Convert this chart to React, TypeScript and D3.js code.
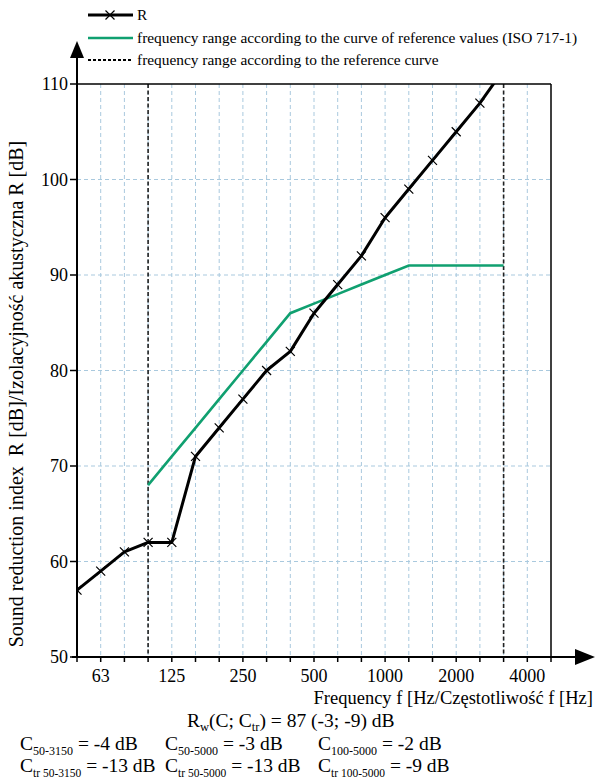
import React from "react";
import * as d3 from "d3";

const bands = ["50","63","80","100","125","160","200","250","315","400","500","630","800","1000","1250","1600","2000","2500","3150","4000","5000"];
const tickLabels = ["63","125","250","500","1000","2000","4000"];
const yTicks = [50, 60, 70, 80, 90, 100, 110];

// Measured sound reduction index R, bands 50 .. 3150 Hz
const rBands = ["50","63","80","100","125","160","200","250","315","400","500","630","800","1000","1250","1600","2000","2500","3150"];
const rValues = [57, 59, 61, 62, 62, 71, 74, 77, 80, 82, 86, 89, 92, 96, 99, 102, 105, 108, 111.5];

// Shifted reference curve (ISO 717-1), bands 100 .. 3150 Hz
const refBands = ["100","125","160","200","250","315","400","500","630","800","1000","1250","1600","2000","2500","3150"];
const refValues = [68, 71, 74, 77, 80, 83, 86, 87, 88, 89, 90, 91, 91, 91, 91, 91];

const rangeBands = ["100", "3150"];

const legendItems = [
  "R",
  "frequency range according to the curve of reference values (ISO 717-1)",
  "frequency range according to the reference curve",
];

const cRow1 = [
  { sub: "50-3150", val: " = -4 dB" },
  { sub: "50-5000", val: " = -3 dB" },
  { sub: "100-5000", val: " = -2 dB" },
];
const cRow2 = [
  { sub: "tr 50-3150", val: " = -13 dB" },
  { sub: "tr 50-5000", val: " = -13 dB" },
  { sub: "tr 100-5000", val: " = -9 dB" },
];

const FONT = "Liberation Serif, Tinos, DejaVu Serif, serif";

export default function App() {
  const W = 595, H = 781;
  const left = 77, right = 551, top = 84, bottom = 657;
  const xi = d3.scaleLinear().domain([0, bands.length - 1]).range([left, right]);
  const x = (b: string) => xi(bands.indexOf(b));
  const y = d3.scaleLinear().domain([50, 110]).range([bottom, top]);

  const line = d3.line<[string, number]>().x(d => x(d[0])).y(d => y(d[1]));
  const rPath = line(rBands.map((b, i) => [b, rValues[i]]));
  const refPath = line(refBands.map((b, i) => [b, refValues[i]]));

  const gridColor = "#a9c9de";
  const cross = (cx: number, cy: number, k: string) => (
    <path key={k} d={`M${cx - 4.5},${cy - 4.5}L${cx + 4.5},${cy + 4.5}M${cx - 4.5},${cy + 4.5}L${cx + 4.5},${cy - 4.5}`} stroke="#000" strokeWidth={1.2} />
  );

  const colX = [20, 165, 318];
  const legendY = [15, 38, 60];

  return (
    <svg width={W} height={H} style={{ position: "absolute", left: 0, top: 0, fontFamily: FONT }}>
      <rect width={W} height={H} fill="#fff" />
      <defs>
        <clipPath id="plot">
          <rect x={left} y={top} width={right - left} height={bottom - top} />
        </clipPath>
      </defs>

      {/* grid */}
      {bands.map((b, i) => (i > 0 && i < bands.length - 1) ? (
        <line key={"gv" + b} x1={x(b)} x2={x(b)} y1={top} y2={bottom} stroke={gridColor} strokeWidth={1} strokeDasharray="4,3" />
      ) : null)}
      {yTicks.filter(v => v > 50 && v < 110).map(v => (
        <line key={"gh" + v} x1={left} x2={right} y1={y(v)} y2={y(v)} stroke={gridColor} strokeWidth={1} strokeDasharray="4,3" />
      ))}

      {/* frequency range dashed lines */}
      {rangeBands.map(b => (
        <line key={"rb" + b} x1={x(b)} x2={x(b)} y1={top} y2={bottom} stroke="#222" strokeWidth={1.6} strokeDasharray="4,2.5" />
      ))}

      {/* frame */}
      <line x1={left} x2={right} y1={top} y2={top} stroke="#000" strokeWidth={1.5} />
      <line x1={right} x2={right} y1={top} y2={bottom} stroke="#000" strokeWidth={1.5} />

      {/* axes */}
      <line x1={left} x2={left} y1={55} y2={bottom} stroke="#000" strokeWidth={2} />
      <path d={`M${left},41L${left - 7},58L${left + 7},58Z`} fill="#000" />
      <line x1={left - 5} x2={578} y1={bottom} y2={bottom} stroke="#000" strokeWidth={2} />
      <path d={`M595,${bottom}L575,${bottom - 8}L575,${bottom + 8}Z`} fill="#000" />

      {yTicks.map(v => (
        <g key={"yt" + v}>
          <line x1={left - 7} x2={left} y1={y(v)} y2={y(v)} stroke="#000" strokeWidth={1.5} />
          <text x={68} y={y(v) + 6} textAnchor="end" fontSize={18}>{v}</text>
        </g>
      ))}
      {bands.map(b => (
        <line key={"xt" + b} x1={x(b)} x2={x(b)} y1={bottom} y2={bottom + 5} stroke="#000" strokeWidth={1.5} />
      ))}
      {tickLabels.map(b => (
        <text key={"xl" + b} x={x(b)} y={682} textAnchor="middle" fontSize={18}>{b}</text>
      ))}

      {/* curves */}
      <g clipPath="url(#plot)">
        <path d={refPath || ""} fill="none" stroke="#10a070" strokeWidth={2.6} />
        <path d={rPath || ""} fill="none" stroke="#000" strokeWidth={3} strokeLinejoin="round" />
        {rBands.map((b, i) => cross(x(b), y(rValues[i]), "m" + b))}
      </g>

      {/* legend */}
      <line x1={88} x2={133} y1={legendY[0]} y2={legendY[0]} stroke="#000" strokeWidth={3} />
      {cross(110, legendY[0], "lg")}
      <line x1={88} x2={133} y1={legendY[1]} y2={legendY[1]} stroke="#10a070" strokeWidth={2.6} />
      <line x1={88} x2={133} y1={legendY[2]} y2={legendY[2]} stroke="#000" strokeWidth={2} strokeDasharray="3,2" />
      {legendItems.map((t, i) => (
        <text key={"lt" + i} x={137} y={legendY[i] + 5} fontSize={15.4}>{t}</text>
      ))}

      {/* axis titles */}
      <text x={593} y={704} textAnchor="end" fontSize={18.5}>Frequency f [Hz/Częstotliwość f [Hz]</text>
      <text transform={`translate(23,394) rotate(-90)`} textAnchor="middle" fontSize={20} style={{ whiteSpace: "pre" }}>
        {"Sound reduction index  R [dB]/Izolacyjność akustyczna R [dB]"}
      </text>

      {/* summary */}
      <text x={187} y={727} fontSize={19.5}>
        <tspan>R</tspan><tspan dy={4} fontSize={12.5}>w</tspan><tspan dy={-4}>(C; C</tspan><tspan dy={4} fontSize={12.5}>tr</tspan><tspan dy={-4}>) = 87 (-3; -9) dB</tspan>
      </text>
      {cRow1.map((c, i) => (
        <text key={"c1" + i} x={colX[i]} y={750} fontSize={19.5}>
          <tspan>C</tspan><tspan dy={5} fontSize={12}>{c.sub}</tspan><tspan dy={-5}>{c.val}</tspan>
        </text>
      ))}
      {cRow2.map((c, i) => (
        <text key={"c2" + i} x={colX[i]} y={772} fontSize={19.5}>
          <tspan>C</tspan><tspan dy={5} fontSize={11.5}>{c.sub}</tspan><tspan dy={-5}>{c.val}</tspan>
        </text>
      ))}
    </svg>
  );
}
